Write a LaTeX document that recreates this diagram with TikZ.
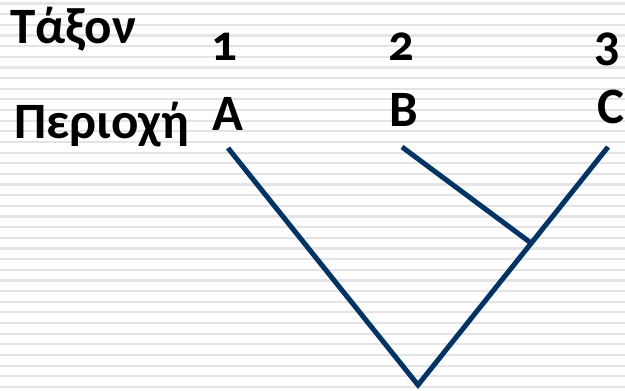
\documentclass[tikz,border=0pt]{standalone}
\usepackage{fontspec}
\setmainfont{Carlito}[Numbers=OldStyle]
\definecolor{treeblue}{RGB}{0,51,102}
\definecolor{stripe}{RGB}{228,228,228}
\begin{document}
\begin{tikzpicture}[x=1pt,y=1pt,
  lbl/.style={inner sep=0pt, font=\fontsize{51}{57}\selectfont\bfseries},
  branch/.style={draw=treeblue, line width=5pt, line join=miter}]
\useasboundingbox (0,0) rectangle (625,-391);
\fill[white] (0,0) rectangle (625,-391);
\foreach \k in {0,...,36}{
  \draw[stripe, line width=2.2pt] (0,{-3.5-10.65*\k}) -- (625,{-3.5-10.65*\k});
}
\node[lbl, anchor=base west] (taxon) at (10,-43) {Τάξον};
\node[lbl, anchor=base west] (perioxi) at (14,-138) {Περιοχή};
\node[lbl, anchor=base] (n1) at (224,-60) {1};
\node[lbl, anchor=base] (n2) at (401,-60) {2};
\node[lbl, anchor=base] (n3) at (607,-60) {3};
\node[lbl, anchor=base] (lA) at (228,-130) {A};
\node[lbl, anchor=base] (lB) at (404,-126) {B};
\node[lbl, anchor=base] (lC) at (611,-123) {C};
\coordinate (a) at (228,-148);
\coordinate (b) at (402,-147);
\coordinate (c) at (608,-147);
\coordinate (r) at (418,-385);
\coordinate (j) at (531,-243);
\draw[branch] (a) -- (r) -- (c);
\draw[branch] (b) -- (j);
\end{tikzpicture}
\end{document}
